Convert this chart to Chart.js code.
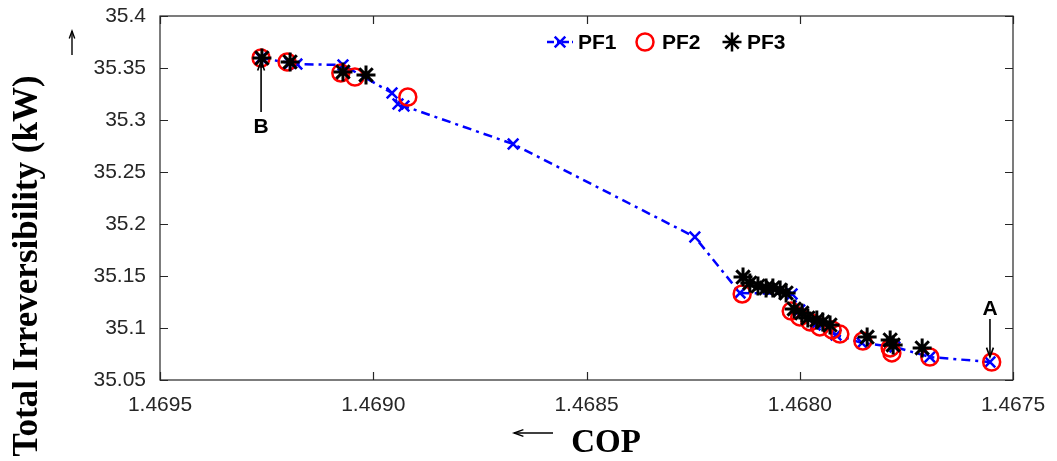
<!DOCTYPE html>
<html>
<head>
<meta charset="utf-8">
<script src="https://cdn.jsdelivr.net/npm/chart.js@4/dist/chart.umd.min.js"></script>
<style>
html,body{margin:0;padding:0;background:#fff;}
#wrap{width:1057px;height:461px;}
</style>
</head>
<body>
<div id="wrap"><canvas id="c" width="1057" height="461"></canvas></div>
<script>
// ---- data ----
const pf1COP = [1.469263,1.469195,1.469179,1.469071,1.468956,1.468942,1.468928,1.468672,1.468246,1.468140,1.468018,1.468000,1.467964,1.467915,1.467854,1.467777,1.467695,1.467554];
const pf1IRR = [35.3596,35.3548,35.3538,35.3529,35.3260,35.3154,35.3135,35.2769,35.1875,35.1337,35.1327,35.1173,35.1029,35.0933,35.0856,35.0817,35.0721,35.0673];

const pf2COP = [1.469263,1.469202,1.469076,1.469043,1.468919,1.468135,1.468020,1.468000,1.467976,1.467953,1.467924,1.467906,1.467852,1.467788,1.467784,1.467695,1.467550];
const pf2IRR = [35.3596,35.3558,35.3452,35.3413,35.3221,35.1327,35.1163,35.1106,35.1058,35.1010,35.0981,35.0942,35.0875,35.0808,35.0760,35.0721,35.0673];

const pf3COP = [1.469261,1.469195,1.469071,1.469017,1.468133,1.468117,1.468098,1.468079,1.468063,1.468046,1.468032,1.468013,1.467995,1.467981,1.467960,1.467946,1.467929,1.467842,1.467788,1.467781,1.467713];
const pf3IRR = [35.3596,35.3558,35.3462,35.3433,35.1490,35.1433,35.1404,35.1385,35.1385,35.1365,35.1337,35.1183,35.1144,35.1096,35.1077,35.1058,35.1029,35.0913,35.0885,35.0837,35.0808];

const xTicks = [1.4695,1.4690,1.4685,1.4680,1.4675];
const yTicks = [35.05,35.1,35.15,35.2,35.25,35.3,35.35,35.4];
const seriesNames = ['PF1','PF2','PF3'];

const pts = (xs, ys) => xs.map((x,i)=>({x:x, y:ys[i]}));
const AX = '#262626';

const decor = {
  id:'decor',
  afterDraw(chart){
    const {ctx, chartArea:a, scales} = chart;
    const xs = scales.x, ys = scales.y;
    ctx.save();
    ctx.strokeStyle = AX; ctx.lineWidth = 1.2; ctx.setLineDash([]);
    ctx.strokeRect(a.left, a.top, a.right-a.left, a.bottom-a.top);
    const TL = 8;
    ctx.beginPath();
    xTicks.forEach(v=>{
      const p = Math.round(xs.getPixelForValue(v))+0.5;
      ctx.moveTo(p,a.bottom); ctx.lineTo(p,a.bottom-TL);
      ctx.moveTo(p,a.top); ctx.lineTo(p,a.top+TL);
    });
    yTicks.forEach(v=>{
      const p = Math.round(ys.getPixelForValue(v))+0.5;
      ctx.moveTo(a.left,p); ctx.lineTo(a.left+TL,p);
      ctx.moveTo(a.right,p); ctx.lineTo(a.right-TL,p);
    });
    ctx.stroke();

    const arrow = (x1,y1,x2,y2,head)=>{
      ctx.beginPath(); ctx.moveTo(x1,y1); ctx.lineTo(x2,y2); ctx.stroke();
      const ang = Math.atan2(y2-y1,x2-x1);
      ctx.beginPath();
      ctx.moveTo(x2 - head*Math.cos(ang-0.35), y2 - head*Math.sin(ang-0.35));
      ctx.lineTo(x2,y2);
      ctx.lineTo(x2 - head*Math.cos(ang+0.35), y2 - head*Math.sin(ang+0.35));
      ctx.stroke();
    };
    ctx.strokeStyle = '#000'; ctx.lineWidth = 1.6;
    const bx = xs.getPixelForValue(pf1COP[0]), by = ys.getPixelForValue(pf1IRR[0]);
    arrow(bx, by+54, bx, by+3, 10);
    const ax = xs.getPixelForValue(pf1COP[pf1COP.length-1]), ay = ys.getPixelForValue(pf1IRR[pf1IRR.length-1]);
    arrow(ax, ay-43, ax, ay-5, 10);
    ctx.fillStyle = '#000';
    ctx.font = 'bold 21px "Liberation Sans", Arial, sans-serif';
    ctx.textAlign = 'center'; ctx.textBaseline = 'middle';
    ctx.fillText('B', bx, by+69);
    ctx.fillText('A', ax, ay-53);

    ctx.lineWidth = 1.4;
    arrow(553, 433, 514, 433, 10);
    arrow(72, 55, 72, 31, 8);

    ctx.font = 'bold 33px "Liberation Serif", "Times New Roman", serif';
    ctx.textAlign = 'center'; ctx.textBaseline = 'alphabetic';
    ctx.fillText('COP', 606, 452);
    ctx.save();
    ctx.translate(37, 266);
    ctx.rotate(-Math.PI/2);
    ctx.font = 'bold 35px "Liberation Serif", "Times New Roman", serif';
    ctx.fillText('Total Irreversibility (kW)', 0, 0);
    ctx.restore();

    const ly = 42;
    const ds = chart.data.datasets;
    ctx.font = 'bold 21px "Liberation Sans", Arial, sans-serif';
    ctx.textAlign = 'left'; ctx.textBaseline = 'middle';
    ctx.strokeStyle = ds[0].borderColor; ctx.lineWidth = 2.5; ctx.setLineDash([7,3,2,3]);
    ctx.beginPath(); ctx.moveTo(547, ly); ctx.lineTo(573, ly); ctx.stroke();
    ctx.setLineDash([]);
    const items = [
      {ds: ds[0], mx: 560, tx: 578},
      {ds: ds[1], mx: 645, tx: 662},
      {ds: ds[2], mx: 732, tx: 747},
    ];
    items.forEach(it=>{
      ctx.strokeStyle = it.ds.pointBorderColor; ctx.fillStyle = 'rgba(0,0,0,0)';
      Chart.helpers.drawPoint(ctx, {pointStyle: it.ds.pointStyle, radius: it.ds.pointRadius, rotation:0, borderWidth: it.ds.pointBorderWidth}, it.mx, ly);
      ctx.fillStyle = '#000';
      ctx.fillText(it.ds.label, it.tx, ly+1);
    });
    ctx.restore();
  }
};

new Chart(document.getElementById('c'), {
  type: 'scatter',
  data: {
    datasets: [
      { label: seriesNames[0], data: pts(pf1COP, pf1IRR), showLine: true,
        borderColor: '#0000ff', borderWidth: 2.5, borderDash: [9,5,3,5],
        pointStyle: 'crossRot', pointRadius: 7.5, pointBorderWidth: 2.5,
        pointBorderColor: '#0000ff', pointBackgroundColor: 'rgba(0,0,0,0)', order: 2 },
      { label: seriesNames[1], data: pts(pf2COP, pf2IRR), showLine: false,
        pointStyle: 'circle', pointRadius: 8.5, pointBorderWidth: 2.5,
        borderColor: '#ff0000', pointBorderColor: '#ff0000', pointBackgroundColor: 'rgba(0,0,0,0)', order: 1 },
      { label: seriesNames[2], data: pts(pf3COP, pf3IRR), showLine: false,
        pointStyle: 'star', pointRadius: 9.5, pointBorderWidth: 3,
        borderColor: '#000000', pointBorderColor: '#000000', pointBackgroundColor: 'rgba(0,0,0,0)', order: 0 }
    ]
  },
  options: {
    responsive: false,
    animation: false,
    layout: { padding: { left: 0, top: 16, right: 44, bottom: 0 } },
    plugins: { legend: { display: false }, tooltip: { enabled: false }, title: { display: false } },
    scales: {
      x: {
        type: 'linear', reverse: true, min: 1.4675, max: 1.4695,
        afterBuildTicks: s => { s.ticks = xTicks.map(v=>({value:v})); },
        afterFit: s => { s.height = 81; s.paddingLeft = 0; s.paddingRight = 0; },
        grid: { display: false, drawTicks: false },
        border: { display: false },
        ticks: { color: AX, padding: 13, maxRotation: 0, autoSkip: false,
          font: { family: '"Liberation Sans", Arial, sans-serif', size: 21 },
          callback: v => Number(v).toFixed(4) }
      },
      y: {
        type: 'linear', min: 35.05, max: 35.4,
        afterBuildTicks: s => { s.ticks = yTicks.map(v=>({value:v})); },
        afterFit: s => { s.width = 160; s.paddingTop = 0; s.paddingBottom = 0; },
        grid: { display: false, drawTicks: false },
        border: { display: false },
        ticks: { color: AX, padding: 14, autoSkip: false,
          font: { family: '"Liberation Sans", Arial, sans-serif', size: 21 },
          callback: v => String(Number(Number(v).toFixed(2))) }
      }
    }
  },
  plugins: [decor]
});
</script>
</body>
</html>
